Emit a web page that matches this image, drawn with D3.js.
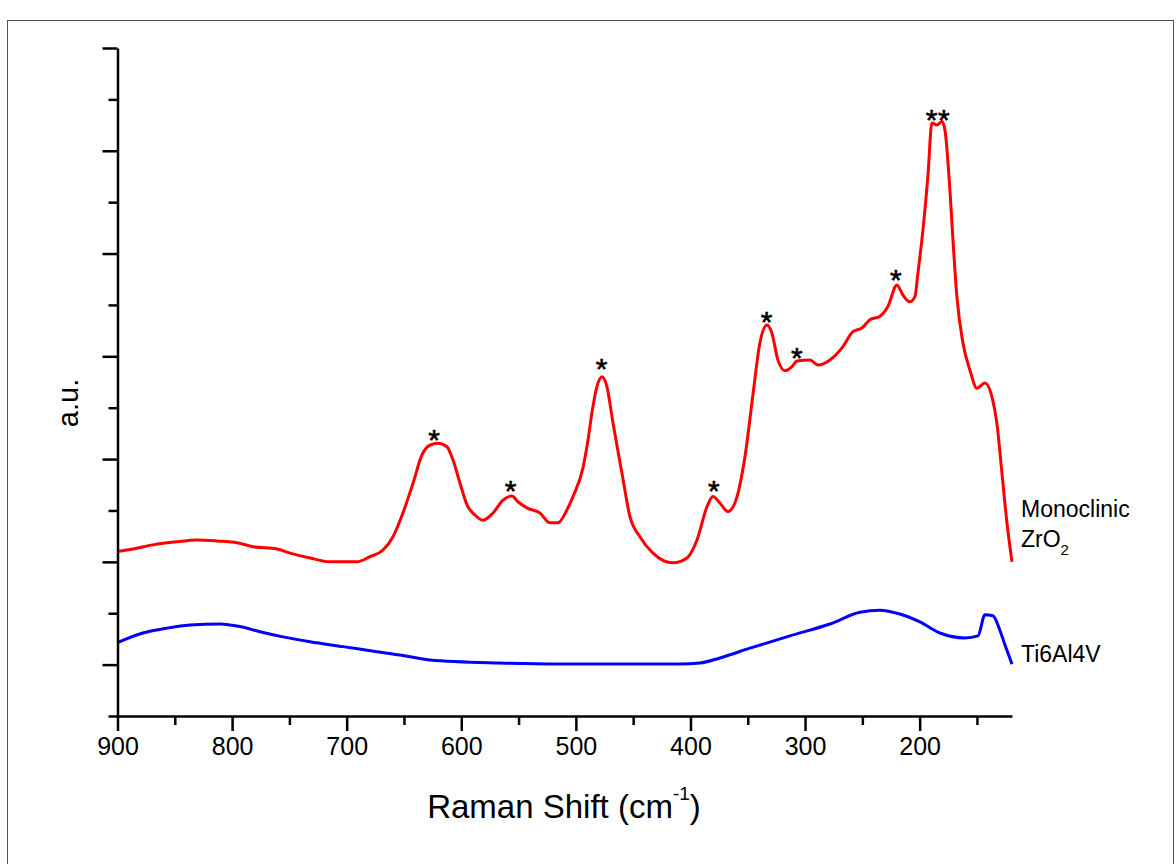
<!DOCTYPE html>
<html>
<head>
<meta charset="utf-8">
<script src="https://cdn.jsdelivr.net/npm/d3@7/dist/d3.min.js"></script>
<style>
  html, body { margin: 0; padding: 0; background: #fff; }
  svg { display: block; }
  text { font-family: "Liberation Sans", Arial, sans-serif; fill: #000; }
</style>
</head>
<body>
<svg id="chart" width="1176" height="864"></svg>
<script>
// ---- data ----
const redWn  = [900, 886.5, 869, 848, 830.6, 813, 795.7, 781.8, 760.8, 749.5, 732, 714.6, 691, 679.7, 668.3, 659.6, 650.9, 642.1, 634.3, 627.3, 620.3, 612.5, 607.2, 601.1, 595, 588, 581.1, 572.3, 563.6, 555.8, 550.5, 542.7, 531.3, 522.6, 515.6, 507.8, 502.5, 493.8, 489.4, 486, 481.6, 477.2, 472.9, 467.6, 459.8, 452.8, 444.1, 432.7, 415.3, 403.1, 394.3, 385.6, 380.4, 374.3, 367.3, 361.2, 352.4, 345.5, 339.4, 333.3, 328.9, 323.7, 317.5, 311.4, 307.1, 295.7, 288.7, 278.3, 266.9, 258.2, 250.4, 243.4, 234.6, 227.7, 219.8, 214.6, 208.5, 204.1, 201.5, 197.1, 192.8, 189.3, 184.9, 180.5, 177.9, 173.6, 170.9, 167.5, 162.2, 156.1, 150, 143, 136.9, 132.6, 128.2, 123.8, 119.4];
const redInt = [3.20, 3.25, 3.33, 3.39, 3.425, 3.405, 3.37, 3.295, 3.25, 3.17, 3.075, 3.00, 3.00, 3.10, 3.23, 3.49, 3.95, 4.53, 5.08, 5.27, 5.31, 5.24, 4.98, 4.53, 4.11, 3.91, 3.81, 3.95, 4.20, 4.28, 4.17, 4.05, 3.95, 3.76, 3.76, 4.01, 4.27, 4.83, 5.37, 5.90, 6.41, 6.60, 6.41, 5.70, 4.73, 3.88, 3.49, 3.17, 2.98, 3.075, 3.425, 4.07, 4.27, 4.145, 3.98, 4.145, 5.05, 6.25, 7.26, 7.61, 7.45, 6.93, 6.72, 6.80, 6.91, 6.93, 6.83, 6.93, 7.19, 7.48, 7.55, 7.71, 7.78, 7.97, 8.39, 8.19, 8.06, 8.16, 8.62, 9.46, 10.50, 11.54, 11.50, 11.57, 11.40, 10.24, 9.26, 8.16, 7.26, 6.73, 6.38, 6.48, 6.21, 5.70, 4.73, 3.76, 3.00];

const blueWn  = [900, 877.8, 856.8, 836.7, 810.6, 793.1, 775.7, 755.6, 732, 703.2, 673.6, 644.8, 627.3, 566.2, 513.9, 461.5, 409.2, 391.7, 374.3, 348.1, 313.2, 278.3, 252.1, 234.6, 217.2, 199.7, 182.3, 160.5, 149.1, 143, 136, 130, 125.5, 119.4];
const blueInt = [1.43, 1.615, 1.71, 1.77, 1.79, 1.74, 1.64, 1.54, 1.445, 1.35, 1.25, 1.155, 1.09, 1.03, 1.01, 1.01, 1.01, 1.03, 1.13, 1.32, 1.56, 1.79, 2.02, 2.06, 1.985, 1.83, 1.615, 1.52, 1.56, 1.97, 1.95, 1.67, 1.38, 1.01];

const starWn  = [623.8, 556.9, 477.5, 379.5, 333.5, 307.1, 220.7, 189.5, 178.8];
const starInt = [5.49, 4.51, 6.88, 4.51, 7.80, 7.09, 8.62, 11.72, 11.72];

const xMajorTicks = [900, 800, 700, 600, 500, 400, 300, 200];
const xMinorTicks = [850, 750, 650, 550, 450, 350, 250, 150];
const yMajorTicks = [1, 3, 5, 7, 9, 11, 13];
const yMinorTicks = [0, 2, 4, 6, 8, 10, 12];

const xLabel = "Raman Shift (cm";
const xLabelSup = "-1";
const yLabel = "a.u.";

// ---- drawing ----
const svg = d3.select("#chart");

svg.append("rect")
  .attr("x", 7.5).attr("y", 20.5).attr("width", 1166).attr("height", 900)
  .attr("fill", "none").attr("stroke", "#555").attr("stroke-width", 1);

const x = d3.scaleLinear().domain([900, 119.4]).range([117.5, 1012]);
const y = d3.scaleLinear().domain([0, 13]).range([716, 48]);

const line = d3.line()
  .x(d => x(d[0])).y(d => y(d[1]))
  .curve(d3.curveMonotoneX);

svg.append("path")
  .datum(blueWn.map((w, i) => [w, blueInt[i]]))
  .attr("d", line)
  .attr("fill", "none").attr("stroke", "#0000ff").attr("stroke-width", 3);

svg.append("path")
  .datum(redWn.map((w, i) => [w, redInt[i]]))
  .attr("d", line)
  .attr("fill", "none").attr("stroke", "#ff0000").attr("stroke-width", 3);

// axes
function styleAxis(g) {
  g.selectAll("path.domain").attr("stroke", "#000").attr("stroke-width", 2.5);
  g.selectAll(".tick line").attr("stroke", "#000").attr("stroke-width", 2.5);
}

const gx = svg.append("g").attr("transform", `translate(0,${y(0)})`);
gx.call(d3.axisBottom(x).tickValues(xMinorTicks).tickSize(9).tickSizeOuter(0).tickFormat(""))
  .call(styleAxis);
const gx2 = svg.append("g").attr("transform", `translate(0,${y(0)})`);
gx2.call(d3.axisBottom(x).tickValues(xMajorTicks).tickSize(15).tickSizeOuter(0).tickPadding(6))
  .call(styleAxis);
gx2.select("path.domain").remove();
gx2.selectAll(".tick text").attr("font-size", 25).attr("font-family", '"Liberation Sans", Arial, sans-serif').attr("fill", "#000");

const gy = svg.append("g").attr("transform", `translate(${x(900)},0)`);
gy.call(d3.axisLeft(y).tickValues(yMinorTicks).tickSize(9).tickSizeOuter(0).tickFormat(""))
  .call(styleAxis);
const gy2 = svg.append("g").attr("transform", `translate(${x(900)},0)`);
gy2.call(d3.axisLeft(y).tickValues(yMajorTicks).tickSize(15).tickSizeOuter(0).tickFormat(""))
  .call(styleAxis);
gy2.select("path.domain").remove();

// stars
svg.append("g").selectAll("text")
  .data(starWn.map((w, i) => [w, starInt[i]]))
  .join("text")
  .attr("x", d => x(d[0])).attr("y", d => y(d[1]))
  .attr("dy", "0.55em")
  .attr("text-anchor", "middle")
  .attr("font-size", 30)
  .attr("stroke", "#000").attr("stroke-width", 0.6)
  .text("*");

// axis titles
const t = svg.append("text")
  .attr("x", 564).attr("y", 818)
  .attr("text-anchor", "middle")
  .attr("font-size", 33);
t.append("tspan").text(xLabel);
t.append("tspan").attr("font-size", 19).attr("dy", -18).text(xLabelSup);
t.append("tspan").attr("dy", 18).text(")");

svg.append("text")
  .attr("transform", "translate(78,403) rotate(-90)")
  .attr("text-anchor", "middle")
  .attr("font-size", 29)
  .text(yLabel);

// series labels
svg.append("text").attr("x", 1021).attr("y", 517).attr("font-size", 23).text("Monoclinic");
const z = svg.append("text").attr("x", 1021).attr("y", 547).attr("font-size", 23);
z.append("tspan").text("ZrO");
z.append("tspan").attr("font-size", 15).attr("dy", 8).text("2");
svg.append("text").attr("x", 1021).attr("y", 662).attr("font-size", 23).text("Ti6Al4V");
</script>
</body>
</html>
